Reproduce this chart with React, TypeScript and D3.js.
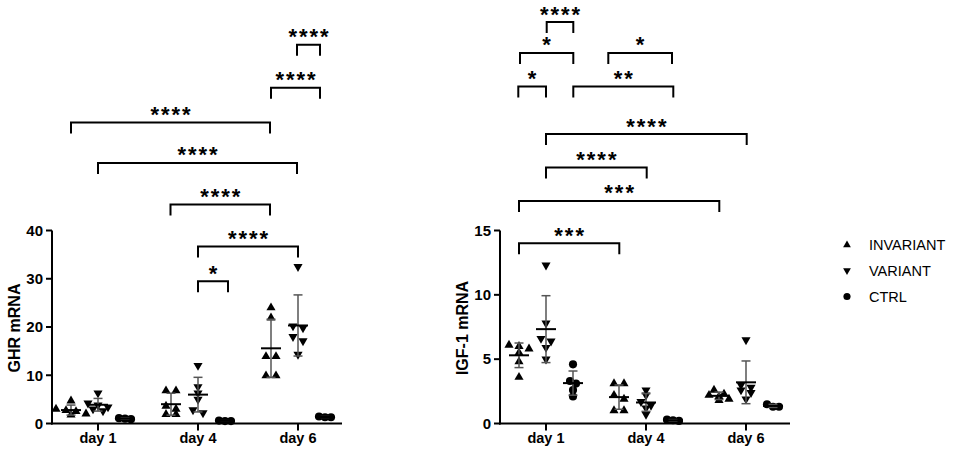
import React from "react";
import * as d3 from "d3";

// ---------- data ----------
const days = ["day 1", "day 4", "day 6"];
const seriesNames = ["INVARIANT", "VARIANT", "CTRL"];

const ghrTicks = [0, 10, 20, 30, 40];
const igfTicks = [0, 5, 10, 15];

// GHR mRNA values per day (day 1, day 4, day 6)
const ghrInvariant = [
  [4.7, 3.0, 2.7, 2.5, 2.0, 1.8],
  [6.8, 6.8, 3.6, 3.0, 1.9, 1.9],
  [24.0, 21.9, 13.9, 13.9, 9.9, 9.9],
];
const ghrVariant = [
  [6.3, 4.2, 3.8, 3.4, 3.0, 2.6],
  [12.0, 7.6, 6.3, 5.0, 2.8, 2.2],
  [32.5, 20.2, 19.8, 18.0, 17.1, 14.3],
];
const ghrCtrl = [
  [1.1, 1.0, 0.9],
  [0.6, 0.5, 0.5],
  [1.45, 1.3, 1.3],
];

// IGF-1 mRNA values per day
const igfInvariant = [
  [6.1, 6.0, 5.8, 5.5, 4.8, 3.6],
  [3.1, 3.1, 2.2, 1.9, 1.0, 1.0],
  [2.6, 2.3, 2.2, 2.1, 1.9, 1.8],
];
const igfVariant = [
  [12.3, 7.8, 6.6, 6.4, 5.9, 5.0],
  [2.6, 2.2, 1.7, 1.4, 1.2, 0.7],
  [6.5, 3.0, 2.8, 2.6, 2.4, 1.9],
];
const igfCtrl = [
  [4.6, 3.3, 3.1, 2.6, 2.1],
  [0.3, 0.25, 0.2],
  [1.5, 1.3, 1.3],
];

// significance brackets: [x1, x2 (in day units), level (data units), label]
const ghrBrackets: [number, number, number, string][] = [
  [1, 2, 36.7, "****"],
  [1, 1.3, 29.5, "*"],
  [0.725, 1.72, 45.4, "****"],
  [0, 1.99, 54.0, "****"],
  [-0.27, 1.72, 62.4, "****"],
  [1.73, 2.22, 69.6, "****"],
  [1.99, 2.22, 78.5, "****"],
];
const igfBrackets: [number, number, number, string][] = [
  [-0.27, 0.733, 14.0, "***"],
  [-0.27, 1.733, 17.3, "***"],
  [0, 1.007, 19.9, "****"],
  [0, 2.007, 22.5, "****"],
  [-0.277, 0, 26.2, "*"],
  [0.273, 1.273, 26.2, "**"],
  [-0.26, 0.273, 28.8, "*"],
  [0.623, 1.26, 28.8, "*"],
  [0.007, 0.273, 31.2, "****"],
];

// ---------- layout ----------
const W = 957;
const H = 457;
const FONT = "'Liberation Sans', Arial, sans-serif";
const seriesOffset = [-0.27, 0, 0.27];
const symbolTypes = [d3.symbolTriangle, d3.symbolTriangle, d3.symbolCircle];
const symbolRot = [0, 180, 0];
const symbolSize = [36, 36, 52];
const spread = [10, 10, 6];

type Pt = { x: number; y: number };

function swarm(values: number[], y: (v: number) => number, cx: number, s: number): Pt[] {
  const sorted = [...values].sort((a, b) => b - a).map((v) => y(v));
  const rows: number[][] = [];
  for (const py of sorted) {
    const last = rows[rows.length - 1];
    if (last && Math.abs(py - last[0]) < 5) last.push(py);
    else rows.push([py]);
  }
  const out: Pt[] = [];
  rows.forEach((r) => {
    r.forEach((py, i) => out.push({ x: cx + (i - (r.length - 1) / 2) * s, y: py }));
  });
  return out;
}

function Panel(props: {
  left: number;
  title: string;
  yMax: number;
  ticks: number[];
  series: number[][][];
  brackets: [number, number, number, string][];
}) {
  const { left, title, yMax, ticks, series, brackets } = props;
  const x0 = left;
  const x1 = left + 290;
  const yBottom = 423.5;
  const yTop = 230.5;
  const y = d3.scaleLinear().domain([0, yMax]).range([yBottom, yTop]);
  const x = d3.scaleLinear().domain([0, 2]).range([left + 46, left + 246]);

  const markers: JSX.Element[] = [];
  const bars: JSX.Element[] = [];
  series.forEach((ser, si) => {
    const path = d3.symbol().type(symbolTypes[si]).size(symbolSize[si])()!;
    ser.forEach((vals, di) => {
      const cx = x(di + seriesOffset[si]);
      swarm(vals, y, cx, spread[si]).forEach((p, k) =>
        markers.push(
          <path
            key={`m${si}-${di}-${k}`}
            d={path}
            transform={`translate(${p.x},${p.y}) rotate(${symbolRot[si]})`}
            fill="#000"
          />
        )
      );
      const m = d3.mean(vals)!;
      const sd = d3.deviation(vals) || 0;
      const lo = y(m - sd);
      const hi = y(m + sd);
      bars.push(
        <g key={`b${si}-${di}`}>
          <line x1={cx} x2={cx} y1={lo} y2={hi} stroke="#555" strokeWidth={1.5} />
          <line x1={cx - 4.5} x2={cx + 4.5} y1={lo} y2={lo} stroke="#555" strokeWidth={1.5} />
          <line x1={cx - 4.5} x2={cx + 4.5} y1={hi} y2={hi} stroke="#555" strokeWidth={1.5} />
          <line x1={cx - 10} x2={cx + 10} y1={y(m)} y2={y(m)} stroke="#000" strokeWidth={2} />
        </g>
      );
    });
  });

  const ls = 2;
  return (
    <g>
      {/* axes */}
      <line x1={x0} x2={x0} y1={yTop} y2={yBottom + 1} stroke="#000" strokeWidth={2} />
      <line x1={x0 - 1} x2={x1} y1={yBottom} y2={yBottom} stroke="#000" strokeWidth={2} />
      {ticks.map((t) => (
        <g key={`yt${t}`}>
          <line x1={x0 - 6} x2={x0} y1={y(t)} y2={y(t)} stroke="#000" strokeWidth={2} />
          <text
            x={x0 - 9}
            y={y(t)}
            dy="0.35em"
            textAnchor="end"
            fontFamily={FONT}
            fontWeight="bold"
            fontSize={15}
          >
            {t}
          </text>
        </g>
      ))}
      {days.map((d, i) => (
        <g key={`xt${i}`}>
          <line x1={x(i)} x2={x(i)} y1={yBottom} y2={yBottom + 7} stroke="#000" strokeWidth={2} />
          <text
            x={x(i)}
            y={438}
            dy="0.35em"
            textAnchor="middle"
            fontFamily={FONT}
            fontWeight="bold"
            fontSize={14.5}
          >
            {d}
          </text>
        </g>
      ))}
      <text
        transform={`translate(${left - 38},${328}) rotate(-90)`}
        textAnchor="middle"
        dy="0.35em"
        fontFamily={FONT}
        fontWeight="bold"
        fontSize={16}
      >
        {title}
      </text>
      {markers}
      {bars}
      {brackets.map(([a, b, lv, lab], i) => {
        const xa = x(a);
        const xb = x(b);
        const yy = y(lv);
        return (
          <g key={`br${i}`}>
            <path
              d={`M${xa},${yy + 11}V${yy}H${xb}V${yy + 11}`}
              fill="none"
              stroke="#000"
              strokeWidth={2}
            />
            <text
              x={(xa + xb) / 2 + ls / 2}
              y={yy - 0.5}
              textAnchor="middle"
              fontFamily={FONT}
              fontWeight="bold"
              fontSize={22}
              letterSpacing={ls}
            >
              {lab}
            </text>
          </g>
        );
      })}
    </g>
  );
}

export default function App() {
  const legendY = [245, 270.5, 296.5];
  return (
    <svg
      width={W}
      height={H}
      viewBox={`0 0 ${W} ${H}`}
      style={{ position: "absolute", left: 0, top: 0, background: "#fff" }}
    >
      <rect width={W} height={H} fill="#fff" />
      <Panel
        left={52}
        title="GHR mRNA"
        yMax={40}
        ticks={ghrTicks}
        series={[ghrInvariant, ghrVariant, ghrCtrl]}
        brackets={ghrBrackets}
      />
      <Panel
        left={500}
        title="IGF-1 mRNA"
        yMax={15}
        ticks={igfTicks}
        series={[igfInvariant, igfVariant, igfCtrl]}
        brackets={igfBrackets}
      />
      {seriesNames.map((n, i) => (
        <g key={`lg${i}`}>
          <path
            d={d3.symbol().type(symbolTypes[i]).size(i === 2 ? 40 : 26)()!}
            transform={`translate(847,${legendY[i]}) rotate(${symbolRot[i]})`}
            fill="#000"
          />
          <text x={869} y={legendY[i]} dy="0.35em" fontFamily={FONT} fontSize={14.5}>
            {n}
          </text>
        </g>
      ))}
    </svg>
  );
}
